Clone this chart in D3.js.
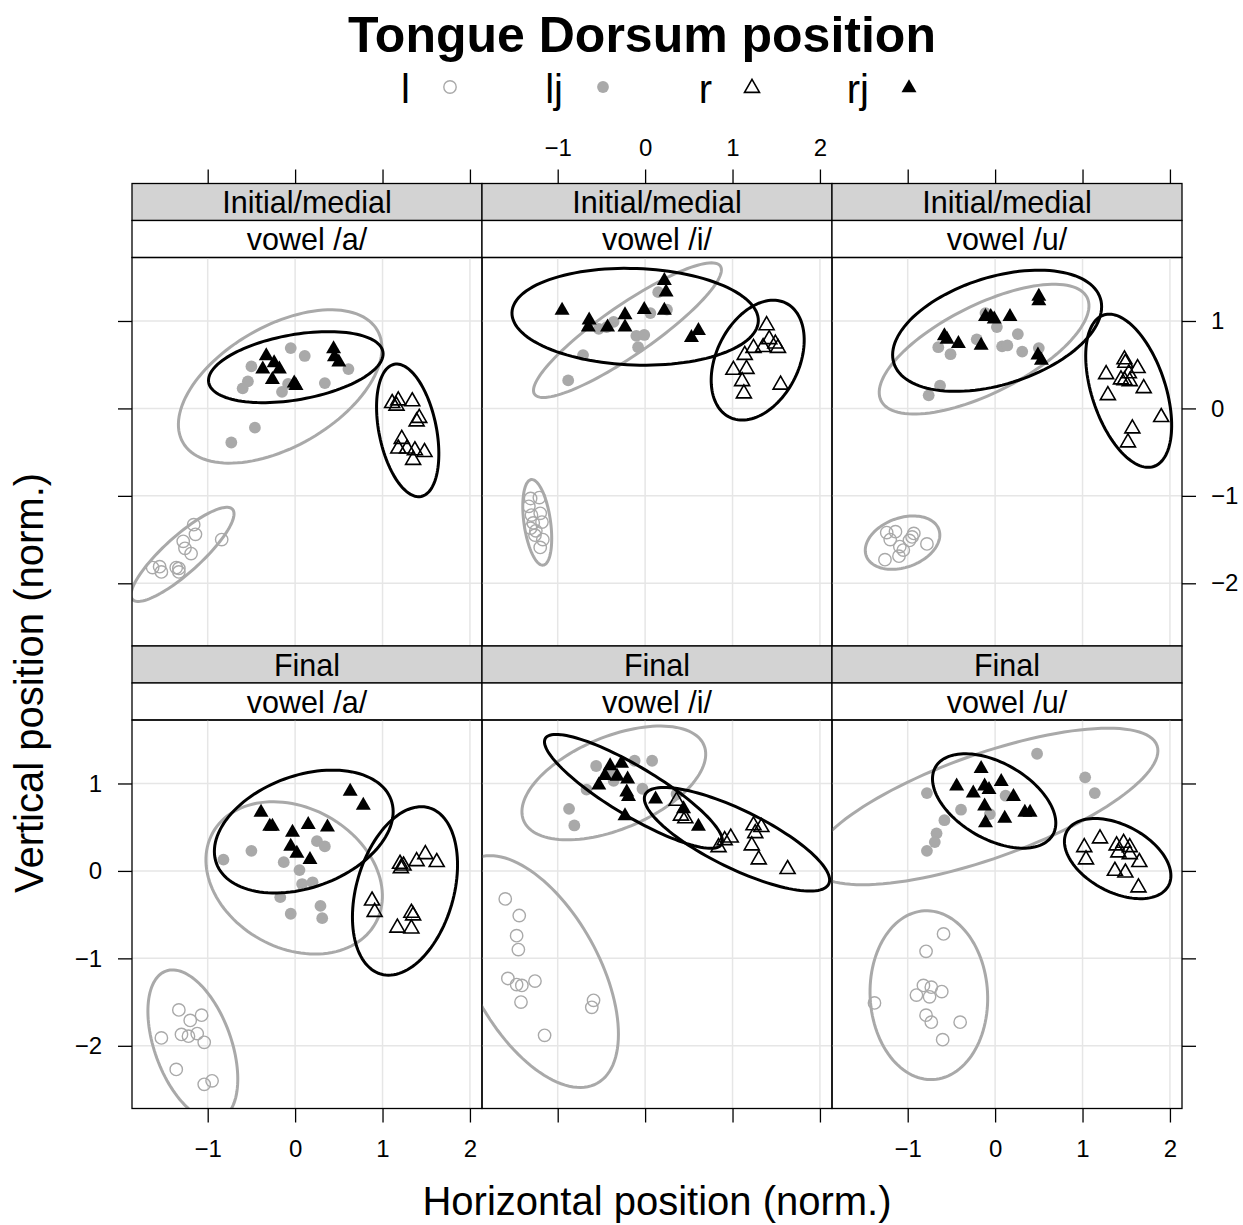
<!DOCTYPE html>
<html>
<head>
<meta charset="utf-8">
<script src="https://cdn.jsdelivr.net/npm/d3@7"></script>
<style>
  body { margin: 0; background: #fff; }
  text { font-family: "Liberation Sans", Arial, Helvetica, sans-serif; }
</style>
</head>
<body>
<svg id="chart" width="1243" height="1225"></svg>
<script>
// ---- data ----
var groups = ["l", "lj", "r", "rj"];
var positions = ["Initial/medial", "Final"];
var vowels = ["vowel /a/", "vowel /i/", "vowel /u/"];
var xTicks = [-1, 0, 1, 2];
var yTicks = [-2, -1, 0, 1];
var xDomain = [-1.866, 2.138];
var yDomain = [-2.717, 1.726];

// Initial/medial, vowel /a/
var im_a_l  = [[-1.16,-1.33],[-1.14,-1.44],[-0.84,-1.50],[-1.28,-1.52],[-1.26,-1.60],[-1.19,-1.66],[-1.63,-1.82],[-1.55,-1.81],[-1.53,-1.87],[-1.36,-1.82],[-1.33,-1.83],[-1.33,-1.87]];
var im_a_lj = [[-0.05,0.69],[0.11,0.60],[-0.50,0.48],[-0.54,0.31],[-0.60,0.23],[-0.15,0.19],[-0.08,0.28],[0.34,0.29],[0.61,0.45],[-0.46,-0.22],[-0.73,-0.39]];
var im_a_r  = [[1.11,0.06],[1.18,0.09],[1.34,0.08],[1.16,0.03],[1.42,-0.11],[1.39,-0.15],[1.22,-0.35],[1.18,-0.46],[1.28,-0.46],[1.37,-0.48],[1.48,-0.50],[1.35,-0.59]];
var im_a_rj = [[-0.33,0.60],[-0.24,0.52],[-0.37,0.45],[-0.18,0.45],[-0.26,0.33],[-0.01,0.29],[0.44,0.68],[0.45,0.59],[0.50,0.53],[0.01,0.26]];
// ellipses: centre x, centre y, semi-major, semi-minor, angle (deg) -- order l, lj, r, rj
var im_a_ell = [[-1.288,-1.669,0.77,0.21,42],[-0.171,0.251,1.284,0.69,30],[1.288,-0.251,0.771,0.328,101.5],[0.008,0.472,1.012,0.372,10]];

// Initial/medial, vowel /i/
var im_i_l  = [[-1.31,-1.03],[-1.21,-1.02],[-1.33,-1.12],[-1.30,-1.22],[-1.20,-1.20],[-1.18,-1.30],[-1.28,-1.31],[-1.31,-1.37],[-1.25,-1.40],[-1.17,-1.50],[-1.20,-1.59],[-1.26,-1.45]];
var im_i_lj = [[0.15,1.33],[0.06,1.09],[0.25,1.13],[-0.36,0.99],[-0.53,0.91],[-0.10,0.83],[-0.01,0.84],[-0.08,0.70],[-0.71,0.61],[-0.88,0.32],[-0.44,0.93]];
var im_i_r  = [[1.39,0.95],[1.42,0.79],[1.49,0.74],[1.52,0.69],[1.35,0.70],[1.24,0.69],[1.14,0.61],[1.16,0.45],[1.01,0.44],[1.11,0.31],[1.13,0.17],[1.55,0.27]];
var im_i_rj = [[-0.95,1.12],[-0.64,1.01],[-0.65,0.93],[-0.43,0.93],[-0.23,1.07],[-0.23,0.93],[-0.01,1.13],[0.22,1.46],[0.24,1.33],[0.22,1.12],[0.61,0.89],[0.53,0.81]];
var im_i_ell = [[-1.234,-1.303,0.494,0.152,98],[-0.202,0.895,1.291,0.286,34.6],[1.288,0.552,0.728,0.472,63.7],[-0.114,1.048,1.41,0.552,-2]];

// Initial/medial, vowel /u/
var im_u_l  = [[-1.24,-1.42],[-1.14,-1.41],[-1.20,-1.50],[-0.93,-1.43],[-0.95,-1.47],[-0.98,-1.51],[-0.78,-1.55],[-1.09,-1.58],[-1.10,-1.69],[-1.26,-1.73],[-1.05,-1.62]];
var im_u_lj = [[-0.11,1.09],[0.02,0.93],[-0.21,0.79],[0.26,0.85],[0.08,0.71],[0.14,0.72],[0.31,0.65],[0.50,0.69],[-0.65,0.70],[-0.51,0.62],[-0.63,0.26],[-0.76,0.15]];
var im_u_r  = [[1.48,0.56],[1.49,0.52],[1.63,0.46],[1.27,0.39],[1.44,0.33],[1.53,0.40],[1.54,0.31],[1.48,0.32],[1.70,0.23],[1.29,0.15],[1.57,-0.23],[1.52,-0.39],[1.90,-0.10]];
var im_u_rj = [[0.50,1.28],[0.50,1.23],[-0.11,1.05],[-0.05,1.05],[-0.01,1.02],[0.17,1.05],[-0.58,0.83],[-0.55,0.79],[-0.42,0.74],[-0.16,0.72],[0.49,0.61],[0.53,0.55]];
var im_u_ell = [[-1.059,-1.535,0.442,0.282,20],[-0.126,0.678,1.318,0.503,26.6],[1.528,0.202,0.912,0.421,108.3],[0.023,0.888,1.238,0.614,17.4]];

// Final, vowel /a/
var fi_a_l  = [[-1.33,-1.59],[-1.20,-1.71],[-1.07,-1.65],[-1.30,-1.87],[-1.22,-1.89],[-1.12,-1.86],[-1.04,-1.96],[-1.53,-1.91],[-1.36,-2.27],[-1.04,-2.44],[-0.95,-2.40]];
var fi_a_lj = [[-0.82,0.13],[-0.50,0.23],[-0.13,0.10],[0.05,0.01],[0.25,0.34],[0.34,0.28],[0.08,-0.15],[0.20,-0.13],[-0.17,-0.30],[-0.05,-0.49],[0.29,-0.40],[0.31,-0.54]];
var fi_a_r  = [[1.20,0.08],[1.24,0.06],[1.21,0.03],[1.39,0.11],[1.49,0.19],[1.62,0.10],[0.88,-0.34],[0.91,-0.47],[1.33,-0.48],[1.35,-0.51],[1.17,-0.65],[1.33,-0.66]];
var fi_a_rj = [[-0.39,0.67],[-0.29,0.51],[-0.26,0.51],[-0.03,0.44],[0.15,0.53],[0.37,0.50],[-0.05,0.28],[0.02,0.20],[0.17,0.13],[0.63,0.91],[0.78,0.75]];
var fi_a_ell = [[-1.170,-1.992,0.901,0.438,110],[-0.011,-0.080,1.065,0.802,-29],[1.257,-0.229,0.990,0.556,73.8],[0.099,0.450,1.063,0.640,20]];

// Final, vowel /i/
var fi_i_l  = [[-1.60,-0.32],[-1.44,-0.51],[-1.47,-0.74],[-1.45,-0.90],[-1.57,-1.23],[-1.47,-1.30],[-1.41,-1.31],[-1.26,-1.26],[-1.42,-1.50],[-1.15,-1.88],[-0.59,-1.48],[-0.61,-1.56]];
var fi_i_lj = [[-0.56,1.20],[-0.12,1.26],[0.08,1.26],[-0.67,0.93],[-0.36,1.03],[-0.03,0.94],[0.36,0.88],[-0.87,0.71],[-0.81,0.52],[-0.38,1.12]];
var fi_i_r  = [[0.36,0.80],[0.41,0.63],[0.46,0.60],[0.84,0.27],[0.98,0.38],[0.91,0.35],[1.24,0.52],[1.33,0.50],[1.26,0.43],[1.22,0.29],[1.30,0.13],[1.63,0.02]];
var fi_i_rj = [[-0.40,1.20],[-0.27,1.23],[-0.46,1.09],[-0.32,1.08],[-0.20,1.05],[-0.53,0.98],[-0.21,0.90],[-0.19,0.85],[-0.23,0.63],[0.12,0.82],[0.44,0.71],[0.61,0.51]];
var fi_i_ell = [[-1.257,-1.151,1.461,0.727,-61],[-0.358,1.006,1.118,0.528,22.7],[1.051,0.362,1.168,0.332,-26],[-0.133,0.91,1.176,0.28,-31]];

// Final, vowel /u/
var fi_u_l  = [[-0.59,-0.72],[-0.79,-0.92],[-0.82,-1.31],[-0.73,-1.33],[-0.61,-1.38],[-0.90,-1.42],[-0.75,-1.44],[-1.38,-1.51],[-0.79,-1.65],[-0.73,-1.73],[-0.40,-1.73],[-0.60,-1.93]];
var fi_u_lj = [[0.48,1.34],[1.03,1.07],[1.14,0.89],[-0.78,0.89],[-0.39,0.70],[-0.58,0.58],[-0.67,0.43],[-0.69,0.33],[-0.78,0.23],[-0.06,0.65],[0.12,0.86]];
var fi_u_r  = [[1.20,0.37],[1.02,0.27],[1.04,0.13],[1.39,0.29],[1.47,0.32],[1.41,0.21],[1.54,0.27],[1.54,0.19],[1.65,0.10],[1.37,0.00],[1.49,-0.02],[1.64,-0.19]];
var fi_u_rj = [[-0.16,1.17],[-0.44,0.97],[-0.12,0.97],[0.07,1.02],[-0.25,0.89],[-0.07,0.93],[0.21,0.85],[-0.12,0.74],[0.11,0.60],[-0.11,0.55],[0.34,0.67],[0.40,0.67]];
var fi_u_ell = [[-0.758,-1.421,0.966,0.672,93],[-0.114,0.737,2.086,0.597,19.5],[1.402,0.141,0.659,0.383,-28],[-0.011,0.8,0.775,0.434,-30]];

// ---- layout ----
var panels = [
  {row: 0, col: 0, pts: [im_a_l, im_a_lj, im_a_r, im_a_rj], ell: im_a_ell},
  {row: 0, col: 1, pts: [im_i_l, im_i_lj, im_i_r, im_i_rj], ell: im_i_ell},
  {row: 0, col: 2, pts: [im_u_l, im_u_lj, im_u_r, im_u_rj], ell: im_u_ell},
  {row: 1, col: 0, pts: [fi_a_l, fi_a_lj, fi_a_r, fi_a_rj], ell: fi_a_ell},
  {row: 1, col: 1, pts: [fi_i_l, fi_i_lj, fi_i_r, fi_i_rj], ell: fi_i_ell},
  {row: 1, col: 2, pts: [fi_u_l, fi_u_lj, fi_u_r, fi_u_rj], ell: fi_u_ell}
];

var colLeft = [132, 482, 832];
var panelW = 350, panelH = 388.5;
var stripTop = [183.5, 646];
var stripH = 37;
var grey = "#a9a9a9";
var tickLen = 14;
var fontFam = "\"Liberation Sans\", Arial, Helvetica, sans-serif";

var svg = d3.select("#chart");
var x = d3.scaleLinear().domain(xDomain).range([0, panelW]);
var y = d3.scaleLinear().domain(yDomain).range([panelH, 0]);

function triPath(s) {
  var w = s / 2, top = s / Math.sqrt(3), bot = s / (2 * Math.sqrt(3));
  return "M0," + (-top) + "L" + w + "," + bot + "L" + (-w) + "," + bot + "Z";
}

function drawSymbol(g, grp, px, py) {
  if (grp == "l") {
    g.append("circle").attr("cx", px).attr("cy", py).attr("r", 6.2)
      .attr("fill", "none").attr("stroke", grey).attr("stroke-width", 1.4);
  } else if (grp == "lj") {
    g.append("circle").attr("cx", px).attr("cy", py).attr("r", 5.9)
      .attr("fill", grey);
  } else if (grp == "r") {
    g.append("path").attr("d", triPath(15)).attr("transform", "translate(" + px + "," + py + ")")
      .attr("fill", "none").attr("stroke", "#000").attr("stroke-width", 1.6);
  } else {
    g.append("path").attr("d", triPath(15)).attr("transform", "translate(" + px + "," + py + ")")
      .attr("fill", "#000");
  }
}

function ellipsePath(e) {
  var cx = e[0], cy = e[1], a = e[2], b = e[3], th = e[4] * Math.PI / 180;
  var pts = d3.range(0, 120).map(function(i) {
    var t = i / 120 * 2 * Math.PI;
    return [cx + a * Math.cos(th) * Math.cos(t) - b * Math.sin(th) * Math.sin(t),
            cy + a * Math.sin(th) * Math.cos(t) + b * Math.cos(th) * Math.sin(t)];
  });
  return d3.line().x(function(d) { return x(d[0]); }).y(function(d) { return y(d[1]); })
    .curve(d3.curveLinearClosed)(pts);
}

// title + key
svg.append("text").attr("x", 642).attr("y", 52).attr("text-anchor", "middle")
  .attr("font-size", 50).attr("font-weight", "bold").text("Tongue Dorsum position");

var keyX = [450, 603, 752, 909];
groups.forEach(function(grp, i) {
  svg.append("text").attr("x", keyX[i] - 40).attr("y", 103).attr("text-anchor", "end")
    .attr("font-size", 40).text(grp);
  drawSymbol(svg, grp, keyX[i], grp.charAt(0) == "r" ? 88 : 87);
});

panels.forEach(function(p) {
  var left = colLeft[p.col];
  var sTop = stripTop[p.row];
  var pTop = sTop + 2 * stripH;

  // strips
  var strips = [positions[p.row], vowels[p.col]];
  strips.forEach(function(lab, k) {
    svg.append("rect").attr("x", left).attr("y", sTop + k * stripH)
      .attr("width", panelW).attr("height", stripH)
      .attr("fill", k == 0 ? "#d3d3d3" : "#fff").attr("stroke", "#000").attr("stroke-width", 1.3);
    svg.append("text").attr("x", left + panelW / 2).attr("y", sTop + k * stripH + 29.5)
      .attr("text-anchor", "middle").attr("font-size", 30.5).text(lab);
  });

  var g = svg.append("g").attr("transform", "translate(" + left + "," + pTop + ")");
  var clipId = "clip" + p.row + p.col;
  g.append("clipPath").attr("id", clipId).append("rect")
    .attr("width", panelW).attr("height", panelH);

  // reference grid
  xTicks.forEach(function(t) {
    g.append("line").attr("x1", x(t)).attr("x2", x(t)).attr("y1", 0).attr("y2", panelH)
      .attr("stroke", "#e6e6e6").attr("stroke-width", 1.5);
  });
  yTicks.forEach(function(t) {
    g.append("line").attr("y1", y(t)).attr("y2", y(t)).attr("x1", 0).attr("x2", panelW)
      .attr("stroke", "#e6e6e6").attr("stroke-width", 1.5);
  });

  var inner = g.append("g").attr("clip-path", "url(#" + clipId + ")");
  groups.forEach(function(grp, i) {
    p.pts[i].forEach(function(d) { drawSymbol(inner, grp, x(d[0]), y(d[1])); });
    inner.append("path").attr("d", ellipsePath(p.ell[i])).attr("fill", "none")
      .attr("stroke", i < 2 ? grey : "#000").attr("stroke-width", 3);
  });

  g.append("rect").attr("width", panelW).attr("height", panelH)
    .attr("fill", "none").attr("stroke", "#000").attr("stroke-width", 1.3);

  // axes
  var fmt = d3.format("d");
  function styleAxis(ax) {
    ax.select(".domain").remove();
    ax.selectAll(".tick line").attr("stroke", "#000").attr("stroke-width", 1.3);
    ax.selectAll(".tick text").attr("font-size", 24).attr("fill", "#000")
      .attr("font-family", fontFam);
  }
  if (p.row == 0) {
    var top = d3.axisTop(x).tickValues(xTicks).tickSize(tickLen).tickPadding(14)
      .tickFormat(p.col == 1 ? fmt : "");
    svg.append("g").attr("transform", "translate(" + left + "," + sTop + ")").call(top).call(styleAxis);
  } else {
    var bot = d3.axisBottom(x).tickValues(xTicks).tickSize(tickLen).tickPadding(17)
      .tickFormat(p.col == 1 ? "" : fmt);
    svg.append("g").attr("transform", "translate(" + left + "," + (pTop + panelH) + ")").call(bot).call(styleAxis);
  }
  if (p.col == 0) {
    var la = d3.axisLeft(y).tickValues(yTicks).tickSize(tickLen).tickPadding(16)
      .tickFormat(p.row == 0 ? "" : fmt);
    svg.append("g").attr("transform", "translate(" + left + "," + pTop + ")").call(la).call(styleAxis);
  }
  if (p.col == 2) {
    var ra = d3.axisRight(y).tickValues(yTicks).tickSize(tickLen).tickPadding(15)
      .tickFormat(p.row == 1 ? "" : fmt);
    svg.append("g").attr("transform", "translate(" + (left + panelW) + "," + pTop + ")").call(ra).call(styleAxis);
  }
});

// axis titles
svg.append("text").attr("x", 657).attr("y", 1215).attr("text-anchor", "middle")
  .attr("font-size", 40).text("Horizontal position (norm.)");
svg.append("text").attr("transform", "translate(43,683) rotate(-90)").attr("text-anchor", "middle")
  .attr("font-size", 40).text("Vertical position (norm.)");
</script>
</body>
</html>
